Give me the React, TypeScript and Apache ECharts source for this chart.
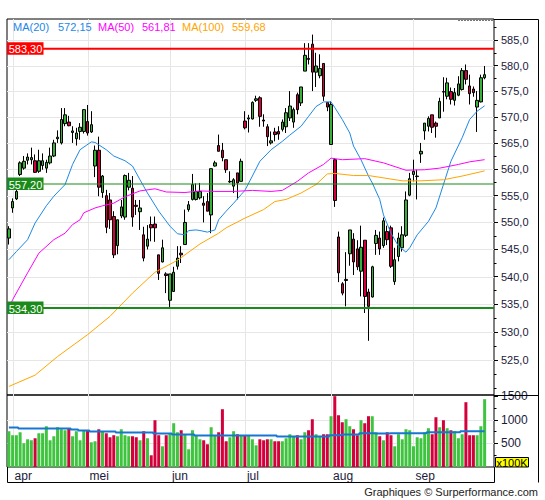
import React, { useEffect, useRef } from 'react';
import * as echarts from 'echarts';

const FONT = '"Liberation Sans", Arial, Helvetica, sans-serif';

const monthStarts = [1, 21, 43, 63, 86, 108];
const monthLabels = ['apr', 'mei', 'jun', 'jul', 'aug', 'sep'];
const slotCount = 130;

// [open, high, low, close]
const ohlc: number[][] = [
  [547.1, 549.3, 545.9, 548.8], [552.7, 554.5, 551.8, 553.9], [554.4, 556.1, 554.2, 555.8], [559.0, 561.5, 558.7, 561.2],
  [560.2, 562.5, 559.9, 561.5], [561.7, 563.0, 560.9, 562.3], [561.8, 564.1, 560.9, 562.2], [561.6, 562.8, 559.3, 559.4],
  [559.6, 563.7, 559.3, 561.6], [560.7, 563.0, 559.9, 561.6], [560.2, 561.8, 559.3, 561.3], [561.2, 564.1, 560.9, 562.5],
  [562.5, 565.6, 562.3, 565.0], [565.8, 567.4, 565.0, 566.1], [565.0, 571.7, 564.7, 569.5], [568.7, 571.7, 568.2, 570.4],
  [569.0, 570.2, 568.2, 568.3], [567.0, 568.2, 565.0, 567.3], [565.8, 567.9, 564.5, 566.9], [567.2, 568.8, 565.6, 568.0],
  [567.2, 571.5, 566.8, 571.4], [569.1, 572.3, 566.4, 566.9], [567.1, 571.1, 566.9, 568.5], [560.6, 564.5, 558.5, 563.6],
  [563.6, 566.2, 554.9, 556.6], [555.6, 558.9, 554.6, 558.7], [555.0, 556.1, 548.0, 549.1], [554.2, 555.5, 548.8, 550.5],
  [551.1, 552.1, 543.4, 544.0], [545.7, 550.5, 544.1, 550.5], [551.2, 554.2, 550.8, 552.9], [551.0, 559.0, 550.5, 558.8],
  [556.6, 559.3, 556.0, 557.9], [556.4, 558.7, 549.2, 551.0], [553.2, 554.2, 551.4, 553.0], [552.0, 554.2, 548.6, 552.7],
  [547.7, 549.2, 542.8, 543.4], [545.6, 549.5, 545.0, 546.9], [549.6, 551.1, 546.5, 549.0], [549.7, 551.1, 546.4, 549.0],
  [544.0, 544.0, 539.4, 540.6], [542.7, 546.8, 542.6, 545.3], [540.5, 540.8, 537.0, 540.2], [535.7, 540.5, 534.3, 540.5],
  [537.3, 541.8, 537.2, 540.8], [541.9, 545.6, 541.3, 543.4], [544.3, 545.6, 542.5, 544.0], [545.9, 552.4, 545.9, 550.0],
  [552.4, 554.0, 552.0, 553.3], [554.3, 559.1, 554.1, 557.1], [554.3, 557.3, 554.1, 555.8], [554.6, 557.4, 554.3, 555.8],
  [553.6, 554.9, 550.0, 553.2], [553.9, 555.5, 552.1, 552.1], [551.4, 560.1, 548.0, 560.1], [560.6, 561.6, 560.5, 561.2],
  [564.5, 566.6, 563.4, 563.4], [563.6, 565.0, 561.5, 562.2], [561.8, 561.8, 559.3, 559.9], [557.6, 559.6, 557.4, 557.7],
  [556.8, 558.3, 555.5, 558.0], [559.3, 559.3, 554.3, 557.4], [557.7, 562.0, 557.7, 561.5], [569.2, 571.1, 567.6, 567.9],
  [569.6, 570.4, 567.0, 569.8], [569.6, 573.0, 569.5, 572.8], [573.2, 574.1, 572.9, 573.5], [573.7, 574.0, 568.1, 570.1],
  [569.4, 570.5, 568.1, 569.2], [568.1, 568.6, 564.4, 566.2], [565.0, 567.2, 564.7, 565.4], [567.1, 567.9, 565.3, 566.6],
  [567.2, 568.2, 565.6, 566.7], [567.6, 569.5, 567.2, 569.0], [568.1, 571.7, 566.9, 570.8], [569.8, 575.0, 569.2, 572.1],
  [569.0, 571.8, 567.9, 571.4], [574.3, 574.7, 570.5, 571.4], [572.7, 575.8, 572.1, 575.8], [578.9, 584.4, 578.9, 582.0],
  [581.4, 584.4, 580.2, 581.2], [584.2, 586.1, 575.0, 578.7], [578.7, 582.5, 575.8, 579.9], [578.0, 582.2, 577.5, 579.4],
  [580.4, 580.4, 573.1, 574.0], [572.8, 572.8, 571.1, 571.9], [564.7, 573.0, 564.7, 572.4], [561.8, 562.1, 552.9, 554.1],
  [547.3, 548.3, 539.0, 540.7], [538.7, 539.0, 536.6, 537.0], [539.3, 544.5, 534.6, 539.5], [544.2, 548.6, 542.0, 548.6],
  [546.9, 548.0, 540.3, 542.7], [545.1, 546.7, 541.2, 541.8], [541.0, 549.4, 536.4, 545.4], [546.7, 546.7, 533.4, 536.4],
  [537.2, 537.8, 528.4, 534.6], [536.3, 542.0, 536.2, 541.8], [546.1, 548.6, 544.0, 547.6], [547.1, 548.3, 544.0, 545.1],
  [545.7, 550.9, 545.3, 550.3], [548.3, 549.4, 545.8, 546.8], [549.0, 549.4, 541.6, 541.9], [539.1, 545.3, 538.5, 543.1],
  [543.7, 548.1, 542.8, 547.1], [545.3, 549.3, 544.6, 547.7], [547.6, 555.8, 547.3, 554.2], [555.1, 559.3, 554.9, 558.2],
  [559.0, 561.8, 557.7, 559.6], [558.6, 559.9, 554.3, 558.7], [562.9, 565.0, 561.2, 563.4], [567.3, 568.8, 565.6, 568.8],
  [568.2, 570.1, 567.2, 569.7], [570.4, 570.4, 566.9, 568.0], [568.8, 569.1, 566.0, 568.2], [569.8, 573.7, 569.8, 573.0],
  [574.9, 577.7, 571.0, 574.8], [574.0, 577.6, 573.4, 576.6], [574.9, 575.7, 572.4, 573.4], [573.2, 575.6, 572.2, 574.7],
  [574.2, 577.9, 574.0, 576.4], [575.3, 579.5, 575.1, 579.0], [579.0, 580.2, 576.3, 577.3], [576.0, 578.2, 572.4, 574.5],
  [575.4, 575.9, 573.9, 574.7], [571.9, 575.0, 567.1, 573.2], [572.9, 578.2, 572.8, 577.6], [577.6, 579.9, 577.3, 578.2],
];

// volume in x100K
const volumes = [
  760, 675, 675, 738, 504, 589, 568, 611, 717, 717, 866, 568, 653, 845, 802, 781,
  824, 653, 760, 568, 781, 781, 525, 547, 802, 760, 717, 632, 675, 653, 802, 675,
  653, 653, 632, 568, 760, 611, 249, 994, 675, 440, 675, 717, 930, 738, 781, 696,
  376, 781, 675, 589, 568, 483, 845, 675, 738, 1228, 547, 632, 760, 696, 675, 675,
  675, 589, 461, 589, 568, 589, 589, 547, 547, 547, 611, 696, 653, 675, 589, 738,
  781, 1015, 696, 653, 696, 696, 1079, 1505, 1100, 951, 1015, 866, 802, 675, 994, 930,
  1079, 1079, 738, 653, 568, 738, 675, 440, 696, 589, 802, 781, 440, 632, 611, 738,
  824, 696, 1058, 845, 994, 824, 781, 760, 611, 696, 1377, 675, 675, 675, 866, 1441,
];

// [candle index, value]
const ma20Pts = [
  [0, 543.1], [2, 544.6], [5, 546.8], [7, 549.9], [10, 553.1], [12, 554.9], [15, 557.1], [17, 560.9],
  [19, 563.7], [22, 565.2], [23, 565.1], [26, 563.7], [28, 562.5], [31, 561.6], [33, 560.6], [35, 558.0],
  [37, 555.5], [40, 552.1], [43, 549.3], [45, 547.9], [47, 547.7], [48, 548.5], [50, 548.6], [51, 548.5],
  [53, 548.2], [55, 548.6], [56, 550.5], [58, 552.1], [60, 553.6], [62, 555.2], [63, 556.0], [65, 558.7],
  [67, 561.5], [70, 563.7], [73, 565.3], [75, 566.5], [78, 568.2], [80, 570.1], [82, 572.0], [84, 572.9],
  [86, 572.9], [87, 571.8], [89, 569.5], [91, 566.9], [92, 564.4], [94, 561.8], [96, 558.7], [97, 557.4],
  [99, 554.3], [100, 551.4], [102, 548.0], [104, 545.6], [106, 544.5], [107, 545.3], [109, 547.7], [112, 550.2],
  [114, 552.7], [116, 557.1], [118, 561.5], [121, 566.0], [123, 569.5], [125, 571.1], [127, 572.15],
];
const ma50Pts = [
  [0, 534.2], [1, 535.8], [5, 540.7], [8, 544.3], [12, 546.8], [15, 548.0], [17, 549.6], [19, 550.5],
  [20, 551.8], [23, 552.7], [25, 553.1], [28, 553.6], [31, 554.8], [35, 555.9], [39, 556.3], [42, 555.7],
  [47, 555.6], [51, 555.9], [55, 555.8], [60, 555.8], [65, 556.0], [70, 555.8], [73, 556.0], [77, 557.7],
  [80, 559.3], [84, 560.9], [86, 562.1], [89, 561.8], [95, 562.0], [100, 561.2], [106, 559.8], [111, 559.9],
  [115, 560.2], [120, 560.9], [123, 561.4], [127, 561.81],
];
const ma100Pts = [
  [0, 520.3], [7, 522.3], [13, 525.6], [21, 529.5], [27, 532.8], [33, 537.0], [39, 540.8], [45, 543.0],
  [51, 546.0], [56, 548.0], [58, 549.0], [63, 550.8], [68, 552.4], [71, 553.9], [74, 554.3], [78, 555.5],
  [82, 557.1], [85, 559.1], [87, 559.2], [92, 558.8], [96, 558.8], [105, 557.8], [110, 557.8], [116, 558.0],
  [121, 558.7], [127, 559.68],
];
// volume average read as flat runs: [first index, level]
const volMaRuns = [
  [0, 838], [3, 817], [17, 795], [19, 774], [22, 753], [29, 731], [39, 710], [44, 689], [50, 668],
  [72, 646], [86, 675], [89, 689], [94, 717], [98, 710], [102, 717], [112, 738], [121, 760],
];

const priceTicks = [525, 530, 535, 540, 545, 550, 555, 560, 565, 570, 575, 580, 585];
const priceMinorTicks = [520, 522.5, 527.5, 532.5, 537.5, 542.5, 547.5, 552.5, 557.5, 562.5, 567.5, 572.5, 577.5, 582.5, 587.5];
const volTicks = [500, 1000, 1500];
const volMinorTicks = [250, 750, 1250];
const priceMin = 518.8;
const priceMax = 589.2;
const volMax = 1530;

const levelValues = [583.3, 557.2, 534.3];
const levelColors = ['#ff0000', '#1a8a1a', '#1a8a1a'];
const levelWidths = [2, 1.2, 2.2];

const maNames = ['MA(20)', 'MA(50)', 'MA(100)'];
const maLast = [572.15, 561.81, 559.68];
const maColors = ['#1e88e5', '#ff00ff', '#ffa500'];
const maLegendX = [13, 58, 98, 142, 182, 232];

const UP = '#36b036';
const DOWN = '#d4003c';
const VOL_UP = '#3ec43e';
const GRID = '#e6e6e6';
const AXIS_TXT = '#1a1a3a';

const L = Math.log;
const fmt = (v: number, d: number) => v.toFixed(d).replace('.', ',');

function buildOption() {
  const cats = Array.from({ length: slotCount }, (_, i) => String(i));
  const volMa: number[] = [];
  volMaRuns.forEach(([s, v], r) => {
    const e = r + 1 < volMaRuns.length ? volMaRuns[r + 1][0] : ohlc.length;
    for (let i = s; i < e; i++) volMa.push(v);
  });

  const hLine = (color: string) => (params: any, api: any) => {
    const cs = params.coordSys;
    const y = Math.round(api.coord([0, api.value(1)])[1]) + 0.5;
    return { type: 'line', silent: true, shape: { x1: cs.x, y1: y, x2: cs.x + cs.width, y2: y }, style: { stroke: color, lineWidth: 1 } };
  };
  const vLine = (color: string) => (params: any, api: any) => {
    const cs = params.coordSys;
    const x = Math.round(api.coord([api.value(0), api.value(1)])[0]) + 0.5;
    return { type: 'line', silent: true, shape: { x1: x, y1: cs.y, x2: x, y2: cs.y + cs.height }, style: { stroke: color, lineWidth: 1 } };
  };

  const maSeries = [ma20Pts, ma50Pts, ma100Pts].map((pts, k) => ({
    type: 'line', name: maNames[k], xAxisIndex: 0, yAxisIndex: 0, z: 4,
    data: pts.map(([i, v]) => [i, L(v)]), showSymbol: false, symbol: 'none', smooth: false,
    lineStyle: { color: maColors[k], width: 1 }, silent: true,
  }));

  const graphics: any[] = [];
  // frame pieces outside the two grids
  const seg = (x1: number, y1: number, x2: number, y2: number) =>
    graphics.push({ type: 'line', z: 100, silent: true, shape: { x1, y1, x2, y2 }, style: { stroke: '#000', lineWidth: 1 } });
  seg(494, 19.5, 538.5, 19.5);
  seg(538.5, 19.5, 538.5, 482.5);
  seg(494, 395.5, 538.5, 395.5);
  seg(7.5, 467, 7.5, 482.5);
  seg(494.5, 467, 494.5, 482.5);
  seg(7.5, 482.5, 494.5, 482.5);
  graphics.push({ type: 'line', z: 100, silent: true, shape: { x1: 458, y1: 20.5, x2: 493, y2: 20.5 }, style: { stroke: '#777', lineWidth: 1, lineDash: [2, 1] } });
  // legend
  maNames.forEach((n, k) => {
    graphics.push({ type: 'text', z: 100, x: maLegendX[2 * k], y: 27, style: { text: n, fill: maColors[k], font: `11px ${FONT}`, verticalAlign: 'middle', textVerticalAlign: 'middle' } });
    graphics.push({ type: 'text', z: 100, x: maLegendX[2 * k + 1], y: 27, style: { text: fmt(maLast[k], 2), fill: maColors[k], font: `11px ${FONT}`, verticalAlign: 'middle', textVerticalAlign: 'middle' } });
  });
  // x100K box
  graphics.push({ type: 'rect', z: 100, silent: true, shape: { x: 495.5, y: 457.5, width: 33, height: 9.5 }, style: { fill: '#ffff00', stroke: '#000', lineWidth: 1 } });
  graphics.push({ type: 'text', z: 101, x: 512, y: 462.5, style: { text: 'x100K', fill: '#000', font: `11px ${FONT}`, align: 'center', textAlign: 'center', verticalAlign: 'middle', textVerticalAlign: 'middle' } });
  // credit
  graphics.push({ type: 'text', z: 100, x: 538, y: 491.5, style: { text: 'Graphiques © Surperformance.com', fill: '#222', font: `11px ${FONT}`, align: 'right', textAlign: 'right', verticalAlign: 'middle', textVerticalAlign: 'middle' } });

  return {
    animation: false,
    backgroundColor: '#ffffff',
    textStyle: { fontFamily: FONT },
    grid: [
      { left: 7, top: 19, width: 487, height: 376, show: true, borderColor: '#000', borderWidth: 1, backgroundColor: 'transparent' },
      { left: 7, top: 395, width: 487, height: 72, show: true, borderColor: '#000', borderWidth: 1, backgroundColor: 'transparent' },
    ],
    xAxis: [
      { type: 'category', gridIndex: 0, data: cats, boundaryGap: true, axisLine: { show: false }, axisTick: { show: false }, axisLabel: { show: false }, splitLine: { show: false } },
      {
        type: 'category', gridIndex: 1, data: cats, boundaryGap: true, axisLine: { show: false }, axisTick: { show: false }, splitLine: { show: false },
        axisLabel: {
          show: true, margin: 3, fontSize: 12, fontFamily: FONT, color: AXIS_TXT, align: 'left', padding: [0, 0, 0, 2],
          interval: (idx: number) => monthStarts.includes(idx),
          formatter: (_v: string, idx: number) => monthLabels[monthStarts.indexOf(idx)] ?? '',
        },
      },
    ],
    yAxis: [
      {
        type: 'value', gridIndex: 0, position: 'right', min: L(priceMin), max: L(priceMax),
        axisLine: { show: false }, splitLine: { show: false },
        axisTick: { show: true, customValues: priceTicks.map(L), length: 4, lineStyle: { color: '#000', width: 1 } },
        axisLabel: { show: true, customValues: priceTicks.map(L), margin: 7, fontSize: 11, fontFamily: FONT, color: AXIS_TXT, formatter: (v: number) => fmt(Math.exp(v), 1) },
      },
      {
        type: 'value', gridIndex: 0, position: 'right', min: L(priceMin), max: L(priceMax),
        axisLine: { show: false }, splitLine: { show: false }, axisLabel: { show: false },
        axisTick: { show: true, customValues: priceMinorTicks.map(L), length: 2.5, lineStyle: { color: '#000', width: 1 } },
      },
      {
        type: 'value', gridIndex: 1, position: 'right', min: 0, max: volMax,
        axisLine: { show: false }, splitLine: { show: false },
        axisTick: { show: true, customValues: volTicks, length: 4, lineStyle: { color: '#000', width: 1 } },
        axisLabel: { show: true, customValues: volTicks, margin: 7, fontSize: 12, fontFamily: FONT, color: AXIS_TXT, formatter: (v: number) => String(v) },
      },
      {
        type: 'value', gridIndex: 1, position: 'right', min: 0, max: volMax,
        axisLine: { show: false }, splitLine: { show: false }, axisLabel: { show: false },
        axisTick: { show: true, customValues: volMinorTicks, length: 2.5, lineStyle: { color: '#000', width: 1 } },
      },
    ],
    series: [
      { type: 'custom', xAxisIndex: 0, yAxisIndex: 0, z: 0, silent: true, data: priceTicks.map((v) => [0, L(v)]), renderItem: hLine(GRID) },
      { type: 'custom', xAxisIndex: 0, yAxisIndex: 0, z: 0, silent: true, data: monthStarts.map((i) => [i, L(550)]), renderItem: vLine(GRID) },
      { type: 'custom', xAxisIndex: 1, yAxisIndex: 2, z: 0, silent: true, data: volTicks.slice(0, 2).map((v) => [0, v]), renderItem: hLine(GRID) },
      { type: 'custom', xAxisIndex: 1, yAxisIndex: 2, z: 0, silent: true, data: monthStarts.map((i) => [i, 100]), renderItem: vLine(GRID) },
      {
        type: 'candlestick', name: 'koers', xAxisIndex: 0, yAxisIndex: 0, z: 2, barWidth: 3, silent: true,
        data: ohlc.map(([o, h, l, c]) => [L(o), L(c), L(l), L(h)]),
        itemStyle: { color: UP, color0: DOWN, borderColor: '#000', borderColor0: '#000', borderWidth: 1 },
      },
      ...maSeries,
      {
        type: 'custom', xAxisIndex: 0, yAxisIndex: 0, z: 6, silent: true,
        data: levelValues.map((v) => [0, L(v)]),
        renderItem: (params: any, api: any) => {
          const cs = params.coordSys;
          const k = params.dataIndex;
          const y = api.coord([0, api.value(1)])[1];
          return {
            type: 'group',
            children: [
              { type: 'line', shape: { x1: cs.x, y1: y, x2: cs.x + cs.width, y2: y }, style: { stroke: levelColors[k], lineWidth: levelWidths[k] } },
              { type: 'rect', shape: { x: cs.x, y: y - 6.5, width: 36.5, height: 12.5 }, style: { fill: levelColors[k] } },
              { type: 'text', x: cs.x + 18.5, y: y + 0.5, style: { text: fmt(levelValues[k], 2), fill: '#ffffff', font: `11px ${FONT}`, align: 'center', textAlign: 'center', verticalAlign: 'middle', textVerticalAlign: 'middle' } },
            ],
          };
        },
      },
      {
        type: 'bar', name: 'volume', xAxisIndex: 1, yAxisIndex: 2, z: 2, barWidth: 3, silent: true,
        data: volumes.map((v, i) => ({ value: v, itemStyle: { color: ohlc[i][3] >= ohlc[i][0] ? VOL_UP : DOWN } })),
      },
      {
        type: 'line', name: 'volume gem.', xAxisIndex: 1, yAxisIndex: 2, z: 4, silent: true,
        data: volMa, step: 'middle', showSymbol: false, symbol: 'none', lineStyle: { color: '#1677d2', width: 2 },
      },
    ],
    graphic: graphics,
  };
}

export default function App() {
  const ref = useRef<HTMLDivElement>(null);
  useEffect(() => {
    if (!ref.current) return;
    const chart = echarts.init(ref.current, null, { renderer: 'svg' });
    chart.setOption(buildOption() as any);
    return () => chart.dispose();
  }, []);
  return (
    <div
      ref={ref}
      style={{ position: 'fixed', left: 0, top: 0, width: 545, height: 500, background: '#ffffff' }}
    />
  );
}
